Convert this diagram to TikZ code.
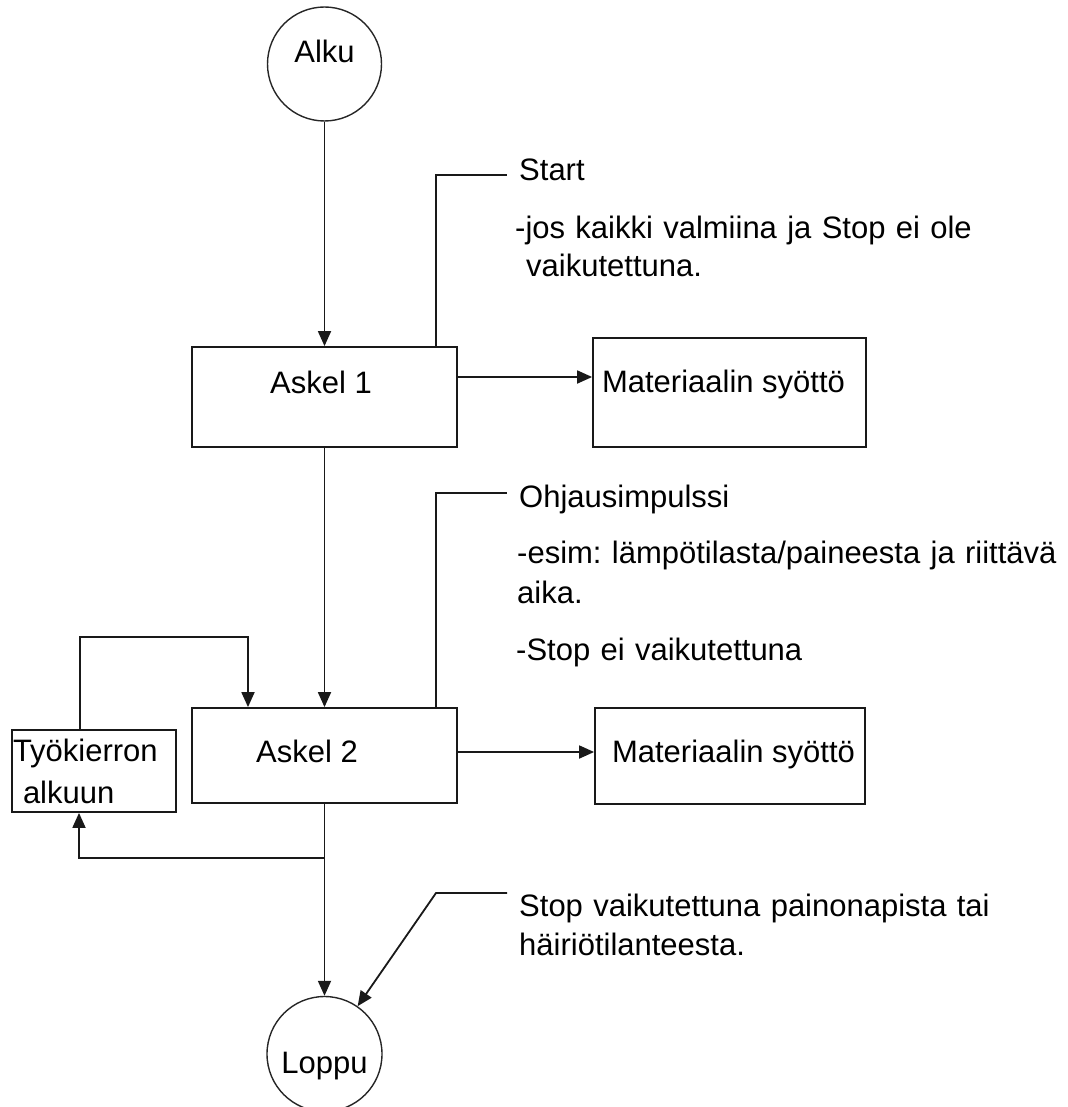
\documentclass[tikz,border=0pt]{standalone}
\usepackage{fontspec}
\setmainfont{Liberation Sans}
\usetikzlibrary{arrows.meta}
\begin{document}
\frenchspacing
\begin{tikzpicture}[x=1pt,y=-1pt,
  every node/.style={font=\fontsize{31}{39}\selectfont, inner sep=0pt},
  ln/.style={line width=1.8pt, draw=black!90},
  arr/.style={ln, -{Triangle[length=15pt,width=13pt]}},
  boxnode/.style={draw=black!90, line width=1.8pt, rectangle},
  term/.style={draw=black!85, line width=1.4pt, circle, minimum size=114pt},
  note/.style={anchor=base west, align=left, text width=600pt}
]
\useasboundingbox (0,0) rectangle (1067,1107);

% terminals
\node[term, text height=22pt, text depth=24pt] (alku) at (324.5,64) {Alku};
\node[term, minimum size=115pt, text height=38pt, text depth=0pt] (loppu) at (324.5,1054) {Loppu};

% boxes
\node[boxnode, minimum width=265pt, minimum height=100pt, text height=22pt, text depth=30pt] (askel1) at (324.5,397) {Askel 1\hspace*{7pt}};
\node[boxnode, minimum width=273pt, minimum height=109pt, text height=22pt, text depth=22pt] (mat1) at (729.5,392.5) {Materiaalin syöttö\hspace*{12pt}};
\node[boxnode, minimum width=265pt, minimum height=95pt, text height=30pt, text depth=17pt] (askel2) at (324.5,755.5) {Askel 2\hspace*{35pt}};
\node[boxnode, minimum width=270pt, minimum height=96pt, text height=28pt, text depth=16pt] (mat2) at (730,756) {\hspace*{7pt}Materiaalin syöttö};
\node[boxnode, minimum width=164pt, minimum height=82pt, align=left, text width=162pt, font=\fontsize{31}{42}\selectfont] (tyo) at (94,771) {Työkierron\\\hspace*{10pt}alkuun};

% main flow
\draw[arr] (alku) -- (askel1);
\draw[arr] (askel1) -- (askel2);
\draw[arr] (askel2) -- (loppu);
\draw[arr] ([yshift=20pt]askel1.east) coordinate (a1) -- (a1 -| mat1.west);
\draw[arr] ([yshift=3.5pt]askel2.east) coordinate (a2) -- (a2 -| mat2.west);

% loop back
\coordinate (j) at (324.5,858);
\coordinate (lb) at (79,858);
\draw[arr] (j) -- (lb) -- (tyo.south -| lb);
\coordinate (lt) at (80,637);
\coordinate (lr) at (248,637);
\draw[arr] (tyo.north -| lt) -- (lt) -- (lr) -- (askel2.north -| lr);

% callouts
\coordinate (c1k) at (436,175); \coordinate (c1e) at (507,175);
\draw[ln] (askel1.north -| c1k) -- (c1k) -- (c1e);
\coordinate (c2k) at (436,493); \coordinate (c2e) at (507,493);
\draw[ln] (askel2.north -| c2k) -- (c2k) -- (c2e);
\coordinate (c3k) at (436,893); \coordinate (c3e) at (507,893);
\draw[arr] (c3e) -- (c3k) -- (loppu);

% notes
\node[note] (t1) at (519,181) {Start};
\node[note] (t1b) at (515,238) {-jos kaikki valmiina ja Stop ei ole\\\hspace*{11pt}vaikutettuna.};
\node[note] (t2) at (519,507) {Ohjausimpulssi};
\node[note, font=\fontsize{31}{40}\selectfont] (t2b) at (517,563) {-esim: lämpötilasta/paineesta ja riittävä\\aika.};
\node[note] (t2c) at (516,660) {-Stop ei vaikutettuna};
\node[note] (t3) at (519,916) {Stop vaikutettuna painonapista tai\\häiriötilanteesta.};
\end{tikzpicture}
\end{document}
